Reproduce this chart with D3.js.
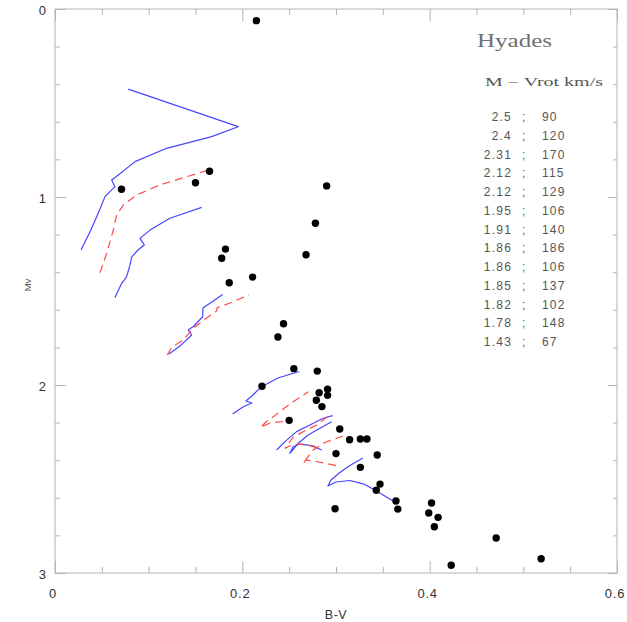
<!DOCTYPE html>
<html>
<head>
<meta charset="utf-8">
<script src="https://cdn.jsdelivr.net/npm/d3@7"></script>
<style>
  html, body { margin: 0; padding: 0; background: #fff; }
  svg { display: block; }
</style>
</head>
<body>
<svg id="chart" width="627" height="622"></svg>
<script>
// ---------------- DATA ----------------
const xTickValues = [0, 0.2, 0.4, 0.6];
const yTickValues = [0, 1, 2, 3];

// Hyades stars: [B-V, Mv]
const starsBV = [0.215,0.071,0.150,0.165,0.290,0.278,0.182,0.178,0.268,0.186,0.211,0.244,0.238,0.255,0.280,0.221,0.282,0.291,0.291,0.279,0.285,0.250,0.304,0.3145,0.326,0.333,0.300,0.344,0.326,0.347,0.343,0.299,0.364,0.366,0.402,0.399,0.409,0.405,0.471,0.423,0.519];
const starsMv = [0.062,0.959,0.924,0.863,0.941,1.140,1.277,1.326,1.307,1.456,1.426,1.674,1.745,1.913,1.926,2.007,2.041,2.023,2.055,2.081,2.115,2.188,2.234,2.291,2.287,2.287,2.365,2.372,2.438,2.527,2.560,2.658,2.617,2.660,2.628,2.681,2.704,2.754,2.814,2.959,2.924];

// Evolutionary tracks: [B-V, Mv]
const trackA = [[0.0277,1.282],[0.0374,1.185],[0.0445,1.105],[0.0498,1.043],[0.0534,0.998],[0.0640,0.945],[0.0605,0.910],[0.0676,0.883],[0.0854,0.812],[0.1192,0.741],[0.1672,0.679],[0.1956,0.626],[0.0782,0.426]];
const trackB = [[0.048,1.403],[0.0552,1.299],[0.0622,1.176],[0.0658,1.096],[0.0729,1.043],[0.0872,0.989],[0.1121,0.936],[0.1406,0.892],[0.1619,0.860]];
const trackC = [[0.064,1.534],[0.0712,1.459],[0.0765,1.424],[0.080,1.362],[0.0819,1.319],[0.0886,1.282],[0.0953,1.255],[0.0907,1.220],[0.1014,1.176],[0.1227,1.113],[0.1566,1.055]];
const trackD = [[0.1217,1.835],[0.1334,1.793],[0.1459,1.734],[0.1423,1.707],[0.1483,1.686],[0.1576,1.637],[0.158,1.590],[0.1654,1.565],[0.179,1.518]];
const trackE = [[0.1199,1.840],[0.1249,1.798],[0.1369,1.761],[0.1476,1.698],[0.1619,1.644],[0.1726,1.606],[0.1729,1.590],[0.1868,1.564],[0.207,1.521]];
const trackF = [[0.1897,2.154],[0.2006,2.117],[0.2102,2.096],[0.2038,2.085],[0.2113,2.053],[0.2199,2.011],[0.238,1.963],[0.2607,1.928]];
const trackG = [[0.2436,2.194],[0.2295,2.202],[0.2193,2.226],[0.2252,2.197],[0.2348,2.162],[0.2508,2.101],[0.2703,2.036]];
const trackH = [[0.2366,2.346],[0.2473,2.293],[0.2580,2.248],[0.2721,2.213],[0.2863,2.177],[0.2964,2.163]];
const trackI = [[0.2953,2.195],[0.2828,2.230],[0.2703,2.266],[0.2597,2.310],[0.2508,2.363],[0.2540,2.330],[0.2615,2.314],[0.2753,2.324],[0.2846,2.346]];
const trackJ = [[0.2906,2.169],[0.2793,2.213],[0.2650,2.248],[0.2543,2.278],[0.2455,2.337],[0.2529,2.319],[0.2668,2.314],[0.2807,2.335]];
const trackK = [[0.3074,2.271],[0.2882,2.306],[0.2743,2.351],[0.2647,2.420],[0.2679,2.399],[0.2786,2.407],[0.2903,2.418],[0.3042,2.434]];
const trackL = [[0.3287,2.388],[0.3148,2.428],[0.3042,2.465],[0.2946,2.505],[0.2914,2.537],[0.2999,2.516],[0.3148,2.508],[0.3298,2.527],[0.3468,2.574],[0.3618,2.620]];

const solidTracks = [trackA, trackC, trackD, trackF, trackH, trackI, trackL];
const dashedTracks = [trackB, trackE, trackG, trackJ, trackK];

// Legend
const legendTitle = "Hyades";
const legendHeader = "M \u2212 Vrot km/s";
const legendMass = ["2.5","2.4","2.31","2.12","2.12","1.95","1.91","1.86","1.86","1.85","1.82","1.78","1.43"];
const legendVrot = ["90","120","170","115","129","106","140","186","106","137","102","148","67"];

// ---------------- CHART ----------------
const svg = d3.select("#chart");
const mLeft = 55, mRight = 617, mTop = 9, mBottom = 573;

const x = d3.scaleLinear().domain([0, 0.6]).range([mLeft, mRight]);
const y = d3.scaleLinear().domain([0, 3]).range([mTop, mBottom]);

const frameColor = "#b4b4b4";
const g = svg.append("g");

const xMinor = d3.range(0, 0.6001, 0.05);
const yMinor = d3.range(0, 3.0001, 0.2);
const isMajorX = v => Math.abs(v / 0.2 - Math.round(v / 0.2)) < 1e-6;
const isMajorY = v => Math.abs(v - Math.round(v)) < 1e-6;

function addTicks(axisGen, pos, cls) {
  const a = g.append("g").attr("class", cls).attr("transform", pos).call(axisGen);
  a.select(".domain").remove();
  a.selectAll("text").remove();
  a.selectAll("line").attr("stroke", frameColor);
  return a;
}
addTicks(d3.axisBottom(x).tickValues(xMinor).tickSizeInner(-6).tickSizeOuter(0), `translate(0,${mBottom})`, "xb")
  .selectAll(".tick line").attr("y2", d => isMajorX(d) ? -12 : -6);
addTicks(d3.axisTop(x).tickValues(xMinor).tickSizeInner(-6).tickSizeOuter(0), `translate(0,${mTop})`, "xt")
  .selectAll(".tick line").attr("y2", d => isMajorX(d) ? 12 : 6);
addTicks(d3.axisLeft(y).tickValues(yMinor).tickSizeInner(-6).tickSizeOuter(0), `translate(${mLeft},0)`, "yl")
  .selectAll(".tick line").attr("x2", d => isMajorY(d) ? 11 : 5);
addTicks(d3.axisRight(y).tickValues(yMinor).tickSizeInner(-6).tickSizeOuter(0), `translate(${mRight},0)`, "yr")
  .selectAll(".tick line").attr("x2", d => isMajorY(d) ? -9 : -4);

g.append("rect").attr("x", mLeft).attr("y", mTop).attr("width", mRight - mLeft).attr("height", mBottom - mTop)
  .attr("fill", "none").attr("stroke", frameColor).attr("stroke-width", 1);

const labelFont = "'Liberation Sans', Arial, sans-serif";
g.append("g").selectAll("text").data(xTickValues).join("text")
  .attr("x", d => x(d) - 2).attr("y", 598)
  .attr("text-anchor", "middle").attr("font-family", labelFont).attr("font-size", 13)
  .attr("letter-spacing", 0.8).attr("fill", "#333").text(d => d3.format("")(d));
g.append("g").selectAll("text").data(yTickValues).join("text")
  .attr("x", 46).attr("y", d => y(d) + 6)
  .attr("text-anchor", "end").attr("font-family", labelFont).attr("font-size", 13)
  .attr("fill", "#333").text(d => d);

svg.append("text").attr("x", (mLeft + mRight) / 2).attr("y", 619).attr("text-anchor", "middle")
  .attr("font-family", labelFont).attr("font-size", 12.5).attr("letter-spacing", 0.5).attr("fill", "#333").text("B-V");
svg.append("text").attr("transform", "translate(31,285) rotate(-90)").attr("text-anchor", "middle")
  .attr("font-family", labelFont).attr("font-size", 9.5).attr("fill", "#555").text("Mv");

const line = d3.line().x(d => x(d[0])).y(d => y(d[1]));
g.append("g").selectAll("path").data(solidTracks).join("path")
  .attr("d", line).attr("fill", "none").attr("stroke", "#4646ff").attr("stroke-width", 1.2)
  .attr("stroke-linejoin", "round");
g.append("g").selectAll("path").data(dashedTracks).join("path")
  .attr("d", line).attr("fill", "none").attr("stroke", "#ff4a4a").attr("stroke-width", 1.2)
  .attr("stroke-dasharray", "8,5");

g.append("g").selectAll("circle").data(starsBV).join("circle")
  .attr("cx", d => x(d)).attr("cy", (d, i) => y(starsMv[i])).attr("r", 3.7).attr("fill", "#000");

const legFont = "'Liberation Serif', 'DejaVu Serif', serif";
svg.append("text").attr("x", 477).attr("y", 47).attr("font-family", legFont).attr("font-size", 18)
  .attr("textLength", 75).attr("lengthAdjust", "spacingAndGlyphs").attr("fill", "#707070").text(legendTitle);
svg.append("text").attr("x", 485).attr("y", 86).attr("font-family", legFont).attr("font-size", 12)
  .attr("textLength", 118).attr("lengthAdjust", "spacingAndGlyphs").attr("fill", "#555").text(legendHeader);

const rows = svg.append("g").attr("font-family", labelFont).attr("font-size", 12).attr("fill", "#555")
  .attr("letter-spacing", 1.2);
rows.selectAll("text.m").data(legendMass).join("text").attr("class", "m")
  .attr("x", 512).attr("y", (d, i) => 121 + i * 18.75).attr("text-anchor", "end").text(d => d);
rows.selectAll("text.s").data(legendMass).join("text").attr("class", "s")
  .attr("x", 522).attr("y", (d, i) => 121 + i * 18.75).text(";");
rows.selectAll("text.v").data(legendVrot).join("text").attr("class", "v")
  .attr("x", 542).attr("y", (d, i) => 121 + i * 18.75).text(d => d);
</script>
</body>
</html>
